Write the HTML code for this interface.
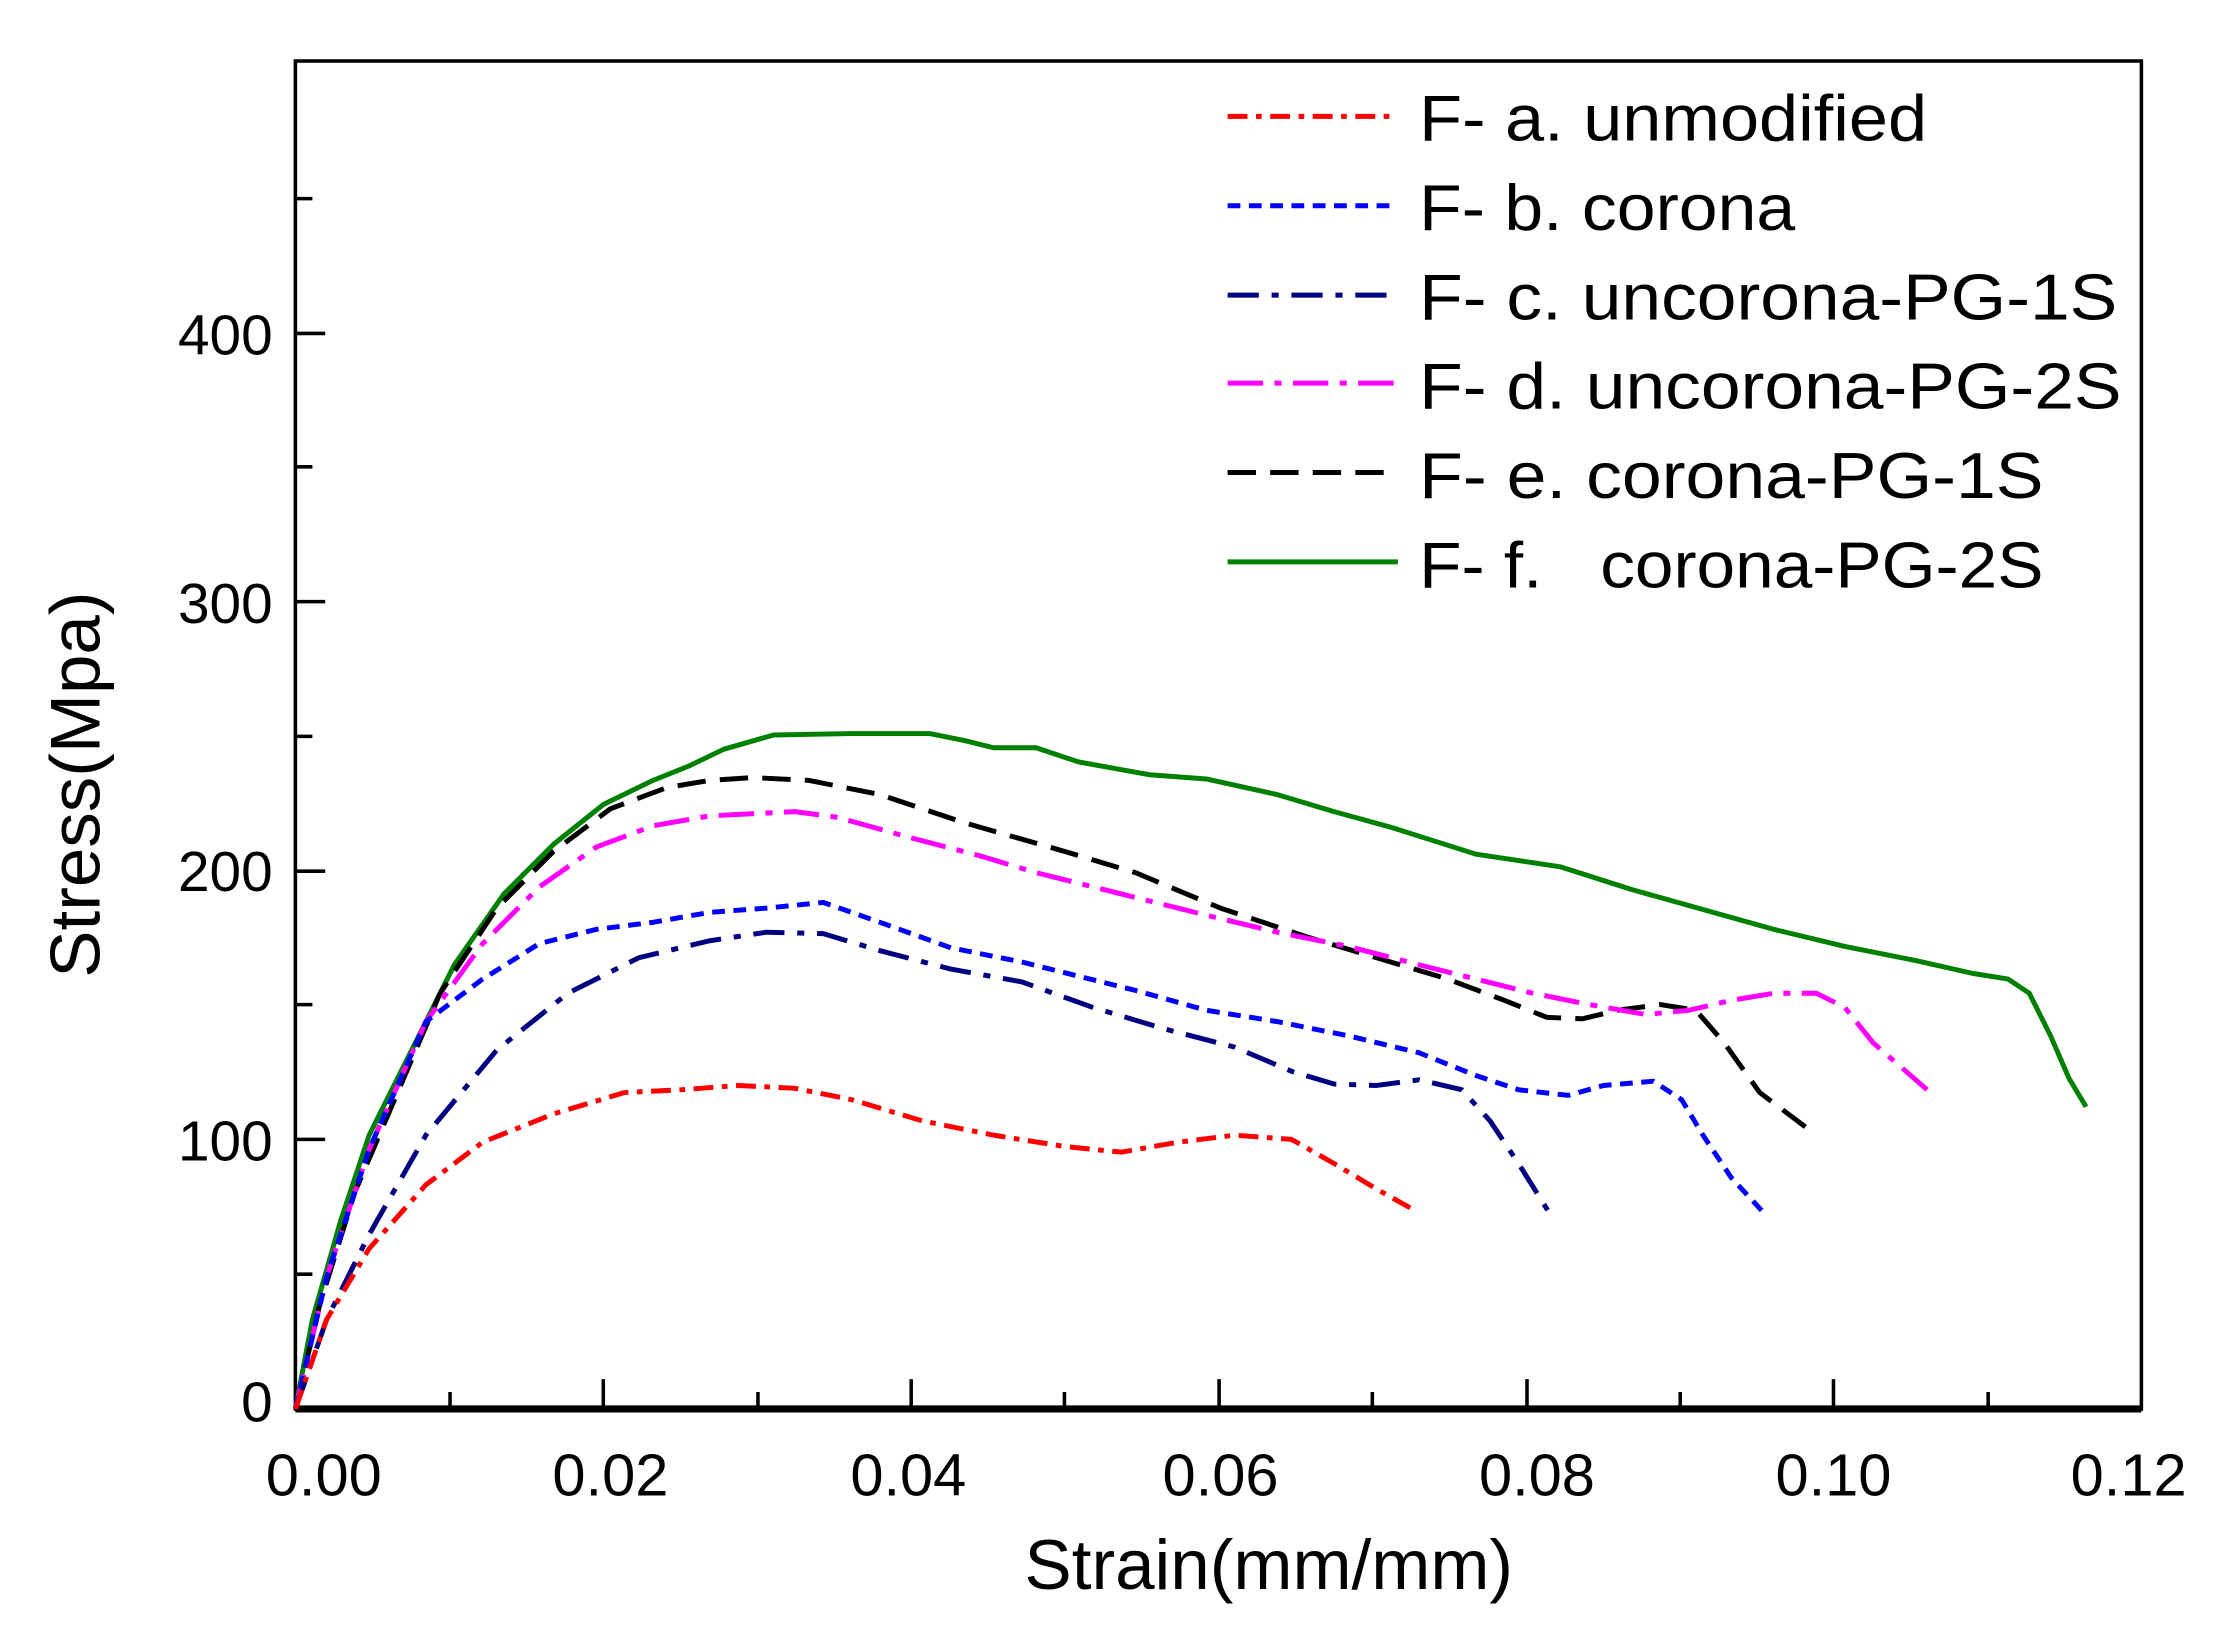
<!DOCTYPE html>
<html><head><meta charset="utf-8"><style>html,body{margin:0;padding:0;background:#fff}svg{display:block}</style></head>
<body>
<svg width="2214" height="1636" viewBox="0 0 1560 1153" xmlns="http://www.w3.org/2000/svg" font-family="Liberation Sans, Arial, sans-serif">
<rect width="1560" height="1153" fill="#fff"/>
<g stroke="#000" stroke-width="2.5" fill="none">
<rect x="208" y="43" width="1301" height="950"/>
<line x1="208" y1="993" x2="1509" y2="993" stroke-width="5"/>
<path d="M208 803h21M208 614h21M208 424h21M208 235h21M208 898h12M208 708h12M208 519h12M208 329h12M208 140h12"/>
<path d="M425 993v-21M642 993v-21M859 993v-21M1076 993v-21M1292 993v-21M317 993v-12M534 993v-12M750 993v-12M967 993v-12M1184 993v-12M1401 993v-12"/>
</g>
<g font-size="40" fill="#000" text-anchor="end">
<text x="192" y="1002">0</text>
<text x="192" y="818">100</text>
<text x="192" y="628">200</text>
<text x="192" y="439">300</text>
<text x="192" y="250">400</text>
</g>
<g font-size="42" fill="#000" text-anchor="middle">
<text x="228" y="1054">0.00</text>
<text x="430" y="1054">0.02</text>
<text x="640" y="1054">0.04</text>
<text x="860" y="1054">0.06</text>
<text x="1083" y="1054">0.08</text>
<text x="1292" y="1054">0.10</text>
<text x="1500" y="1054">0.12</text>
<text x="894" y="1120" font-size="50">Strain(mm/mm)</text>
<text transform="translate(70,553) rotate(-90)" font-size="50">Stress(Mpa)</text>
</g>
<g fill="none" stroke-width="3.5" stroke-linejoin="round">
<polyline stroke="#008000" points="208,993 220,930 240,860 260,800 290,740 320,680 355,630 390,595 425,567 460,550 485,540 510,528 545,518 600,517 655,517 680,522 700,527 730,527 760,537 810,546 850,549 900,560 940,572 980,583 1040,602 1100,611 1150,627 1200,641 1250,655 1300,667 1350,677 1390,686 1415,690 1430,700 1445,730 1458,760 1470,780"/>
<polyline stroke="#000" stroke-dasharray="20 10" points="208,993 225,920 250,840 280,770 310,700 350,640 390,600 430,570 470,555 500,550 530,548 570,550 620,560 680,580 750,600 800,615 860,640 920,660 970,675 1020,690 1060,705 1090,717 1115,718 1140,712 1170,708 1195,712 1215,735 1240,770 1280,800"/>
<polyline stroke="#ff00ff" stroke-dasharray="25 8 5 8" points="208,993 230,900 260,810 300,720 340,665 380,625 420,597 460,582 500,575 560,572 590,576 640,590 690,603 730,615 790,630 850,645 900,657 950,667 1000,680 1040,690 1080,700 1120,708 1160,715 1190,712 1220,705 1250,700 1280,700 1300,710 1320,735 1358,768"/>
<polyline stroke="#0000ff" stroke-dasharray="9 6" points="208,993 230,900 260,810 300,720 340,690 380,665 420,655 460,650 500,643 540,640 580,636 620,650 670,668 720,678 760,688 800,698 850,712 900,720 950,730 1000,742 1040,758 1070,768 1105,772 1130,765 1165,762 1185,775 1200,800 1220,830 1245,857"/>
<polyline stroke="#000080" stroke-dasharray="22 9 5 9" points="208,993 230,930 260,870 300,800 350,740 400,700 450,675 500,663 540,657 580,658 620,670 670,683 720,692 770,710 820,725 870,738 910,755 940,764 970,765 1000,761 1030,768 1050,790 1070,820 1095,860"/>
<polyline stroke="#ff0000" stroke-dasharray="14 6 4 6" points="208,993 230,930 260,880 300,835 340,805 390,785 440,770 480,768 520,765 560,767 600,775 650,790 700,800 750,808 790,812 830,805 870,800 910,803 940,820 970,838 995,852"/>
</g>
<g fill="none" stroke-width="3.5">
<line x1="865" y1="82" x2="985" y2="82" stroke="#ff0000" stroke-dasharray="14 6 4 6"/>
<line x1="865" y1="145" x2="985" y2="145" stroke="#0000ff" stroke-dasharray="9 6"/>
<line x1="865" y1="208" x2="985" y2="208" stroke="#000080" stroke-dasharray="22 9 5 9"/>
<line x1="865" y1="270" x2="985" y2="270" stroke="#ff00ff" stroke-dasharray="25 8 5 8"/>
<line x1="865" y1="333" x2="985" y2="333" stroke="#000" stroke-dasharray="20 10"/>
<line x1="865" y1="396" x2="985" y2="396" stroke="#008000"/>
</g>
<g font-size="46" fill="#000">
<text x="1000" y="99" textLength="358" lengthAdjust="spacingAndGlyphs">F- a. unmodified</text>
<text x="1000" y="162" textLength="265" lengthAdjust="spacingAndGlyphs">F- b. corona</text>
<text x="1000" y="225" textLength="492" lengthAdjust="spacingAndGlyphs">F- c. uncorona-PG-1S</text>
<text x="1000" y="288" textLength="495" lengthAdjust="spacingAndGlyphs">F- d. uncorona-PG-2S</text>
<text x="1000" y="351" textLength="440" lengthAdjust="spacingAndGlyphs">F- e. corona-PG-1S</text>
<text x="1000" y="414" textLength="440" lengthAdjust="spacingAndGlyphs">F- f.&#160;&#160; corona-PG-2S</text>
</g>
</svg>
</body></html>
